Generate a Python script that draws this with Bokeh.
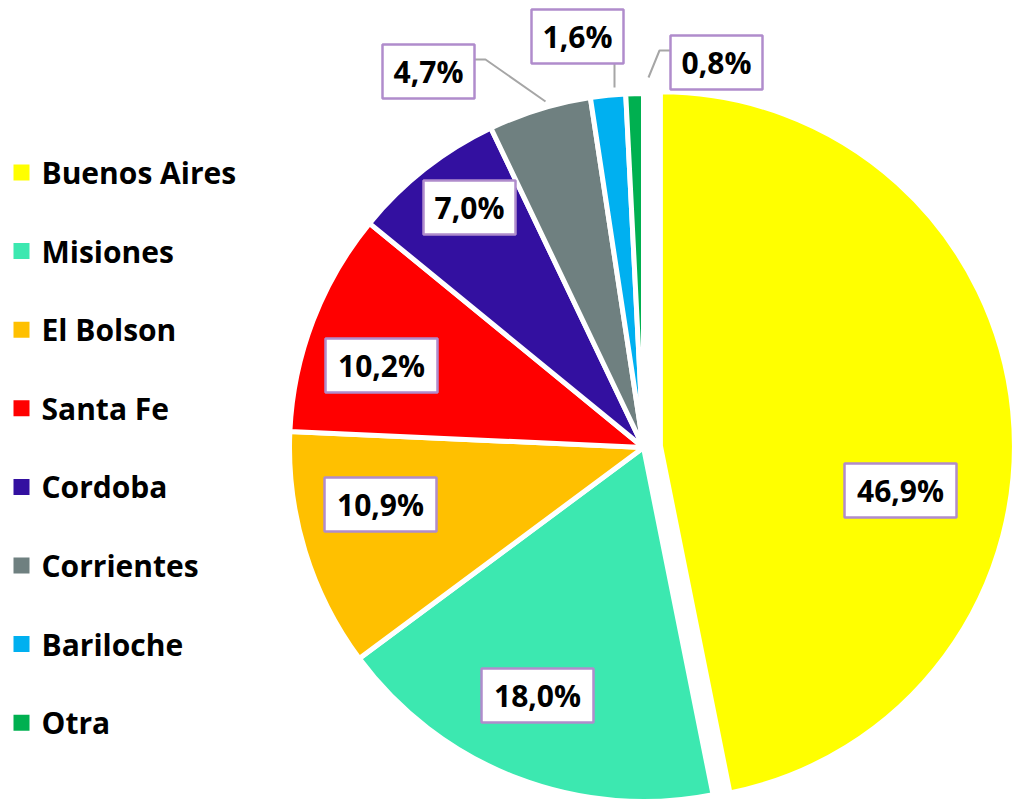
import math
from bokeh.plotting import figure
from bokeh.models import Range1d, ColumnDataSource
from bokeh.core.properties import value
from bokeh.embed import file_html
from bokeh.resources import INLINE

# ---- data ----
names = ["Buenos Aires", "Misiones", "El Bolson", "Santa Fe",
         "Cordoba", "Corrientes", "Bariloche", "Otra"]
values = [46.9, 18.0, 10.9, 10.2, 7.0, 4.7, 1.6, 0.8]
labels = ["46,9%", "18,0%", "10,9%", "10,2%", "7,0%", "4,7%", "1,6%", "0,8%"]
colors = ["#FFFF00", "#3CE8B0", "#FFC000", "#FF0000",
          "#3310A0", "#6F8080", "#00B0F0", "#00B050"]

# ---- layout (picture pixel coords, y measured downward) ----
W, H = 1015, 803
FONT = "Open Sans"
FS = "30px"
CX, CY, R = 643, 447, 354
explode = [17, 0, 0, 0, 0, 0, 0, 0]
label_pos = [(900, 490), (537, 695), (380, 504), (381, 365),
             (469, 207), (428, 71), (577, 36), (716, 62)]
leaders = [None, None, None, None, None,
           [(473, 59), (485, 59), (545, 101)],
           [(614, 63), (614, 87)],
           [(670, 50), (659, 50), (648, 77)]]
legend_x, legend_y0, legend_dy = 21, 172, 78.6


def fy(y):
    return H - y


p = figure(width=W, height=H, output_backend="svg", toolbar_location=None,
           x_range=Range1d(0, W), y_range=Range1d(0, H),
           min_border=0)
p.axis.visible = False
p.grid.visible = False
p.outline_line_color = None
p.background_fill_color = "white"

total = sum(values)
starts, ends, xs, ys = [], [], [], []
cum = 0.0
for v, e in zip(values, explode):
    a0 = math.pi / 2 - 2 * math.pi * cum / total
    cum += v
    a1 = math.pi / 2 - 2 * math.pi * cum / total
    mid = (a0 + a1) / 2
    starts.append(a0)
    ends.append(a1)
    xs.append(CX + e * math.cos(mid))
    ys.append(fy(CY) + e * math.sin(mid))

src = ColumnDataSource(dict(x=xs, y=ys, start=starts, end=ends, color=colors))
p.wedge(x="x", y="y", radius=R, start_angle="start", end_angle="end",
        direction="clock", fill_color="color", line_color="white",
        line_width=5, source=src)

# leader lines
lx, ly = [], []
for ld in leaders:
    if ld:
        lx.append([q[0] for q in ld])
        ly.append([fy(q[1]) for q in ld])
p.multi_line(xs=lx, ys=ly, line_color="#A6A6A6", line_width=2)

# label boxes
bsrc = ColumnDataSource(dict(
    x=[q[0] for q in label_pos], y=[fy(q[1]) for q in label_pos],
    w=[20 * len(t) + 12 for t in labels], text=labels))
p.rect(x="x", y="y", width="w", height=54, fill_color="white",
       line_color="#B08CCC", line_width=2.5, source=bsrc)
p.text(x="x", y="y", text="text", text_font=value(FONT),
       text_font_style="bold", text_font_size=FS, text_align="center",
       text_baseline="middle", text_color="black", source=bsrc)

# legend
ly_ = [fy(legend_y0 + i * legend_dy) for i in range(len(names))]
lsrc = ColumnDataSource(dict(x=[legend_x] * len(names), y=ly_,
                             tx=[legend_x + 20] * len(names),
                             color=colors, name=names))
p.scatter(x="x", y="y", marker="square", size=16, fill_color="color",
          line_color=None, source=lsrc)
p.text(x="tx", y="y", text="name", text_font=value(FONT),
       text_font_style="bold", text_font_size=FS, text_align="left",
       text_baseline="middle", text_color="black", source=lsrc)

open("out.html", "w").write(file_html(p, INLINE))
